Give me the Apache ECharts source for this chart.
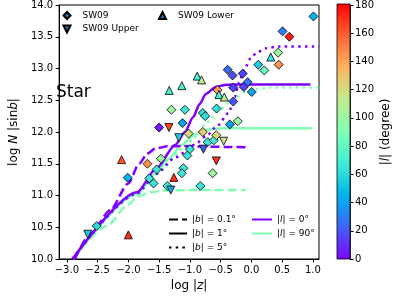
<!DOCTYPE html>
<html><head><meta charset="utf-8">
<script src="https://cdn.jsdelivr.net/npm/echarts@6/dist/echarts.min.js"></script>
<style>html,body{margin:0;padding:0;background:#fff}#c{width:399px;height:298px}</style>
</head><body><div id="c"></div>
<script>
// ---- tick labels ----
const xTicks = [-3.0, -2.5, -2.0, -1.5, -1.0, -0.5, 0.0, 0.5, 1.0];
const cbTicks = [0, 20, 40, 60, 80, 100, 120, 140, 160, 180];

// ---- SW09 observations: log|z|, log N|sinb|, |l| ----
const sw09Z   = [1.01, 0.508, 0.618, 0.436, 0.445, 0.112, 0.21, -0.385, -0.306, -0.14, -0.06, -0.295, -0.123, 0.007, -0.566, -0.295, -0.55, -1.30, -1.08, -1.50, -1.12, -0.79, -0.75, -0.35, -0.22, -0.79, -1.02, -0.71, -0.61, -0.57, -0.63, -0.83, -1.47, -1.69, -1.54, -1.105, -1.13, -1.66, -1.59, -1.365, -2.01, -2.515, -1.04, -1.0];
const sw09N   = [13.82, 13.585, 13.50, 13.25, 13.06, 13.06, 12.97, 12.98, 12.89, 12.92, 12.785, 12.70, 12.71, 12.63, 12.37, 12.48, 12.66, 12.35, 12.35, 12.07, 12.14, 12.30, 12.25, 12.12, 12.17, 12.0, 11.975, 11.84, 11.87, 11.95, 11.35, 11.15, 11.58, 11.50, 11.41, 11.43, 11.35, 11.27, 11.19, 11.15, 11.28, 10.52, 11.63, 11.73];
const sw09L   = [45, 30, 175, 100, 145, 55, 80, 25, 18, 15, 28, 15, 15, 40, 62, 20, 140, 100, 65, 5, 40, 62, 62, 40, 100, 125, 120, 65, 70, 120, 100, 65, 100, 145, 65, 65, 65, 65, 65, 65, 45, 60, 65, 65];

const upperZ  = [-1.34, -1.18, -0.78, -0.45, -0.57, -1.31, -2.66];
const upperN  = [12.07, 11.91, 11.73, 11.855, 11.545, 11.085, 10.39];
const upperL  = [165, 55, 20, 115, 170, 40, 55];

const lowerZ  = [-1.335, -1.13, -0.88, -0.81, -0.527, -0.44, 0.316, -2.11, -1.26, -2.0];
const lowerN  = [12.655, 12.73, 12.88, 12.82, 12.59, 12.55, 13.18, 11.565, 11.285, 10.38];
const lowerL  = [70, 70, 70, 110, 70, 110, 65, 160, 170, 170];

// ---- model curves ----
const l0b01Z = [-2.87, -2.61, -2.295, -2.0, -1.825, -1.69, -1.56, -1.355, -1.145, -0.8, -0.4, -0.06];
const l0b01N = [10.0, 10.405, 10.77, 11.19, 11.5, 11.66, 11.74, 11.775, 11.78, 11.77, 11.765, 11.76];
const l0b1Z  = [-2.91, -1.86, -1.55, -1.235, -1.08, -0.95, -0.84, -0.74, -0.58, -0.40, 0.0, 0.5, 0.96];
const l0b1N  = [10.0, 11.05, 11.42, 11.80, 12.0, 12.23, 12.44, 12.6, 12.71, 12.745, 12.75, 12.75, 12.75];
const l0b5Z  = [-2.91, -1.86, -1.55, -1.235, -0.92, -0.74, -0.55, -0.37, -0.27, -0.2, -0.11, 0.0, 0.1, 0.25, 0.43, 1.1];
const l0b5N  = [10.0, 11.03, 11.34, 11.6, 11.8, 11.93, 12.1, 12.3, 12.55, 12.78, 13.0, 13.18, 13.26, 13.32, 13.345, 13.345];
const l90b01Z = [-2.9, -2.35, -2.0, -1.86, -1.65, -1.4, -1.0, -0.09];
const l90b01N = [10.0, 10.52, 10.86, 10.98, 11.05, 11.08, 11.085, 11.085];
const l90b1Z  = [-2.9, -1.86, -1.55, -1.34, -1.13, -0.92, -0.71, -0.45, 0.0, 0.985];
const l90b1N  = [10.0, 11.02, 11.35, 11.58, 11.8, 11.96, 12.04, 12.06, 12.06, 12.06];
const l90b5Z  = [-2.9, -1.86, -1.5, -1.08, -0.92, -0.71, -0.5, -0.32, -0.09, 0.12, 0.33, 1.1];
const l90b5N  = [10.0, 11.02, 11.38, 11.76, 11.92, 12.16, 12.36, 12.50, 12.63, 12.68, 12.70, 12.70];

const FONT = 'DejaVu Sans';
const PURPLE = '#8000ff', GREEN = '#80ffb4';
const rainbow = ['#8000ff','#4062fa','#00b4eb','#40ecd4','#80ffb4','#c0eb8e','#ffb462','#ff6232','#ff0000'];
const DASH = [9, 4], DOT = [2.5, 4.2];

const zip3 = (a, b, c) => a.map((v, i) => [v, b[i], c[i]]);
const zip2 = (a, b) => a.map((v, i) => [v, b[i]]);

function curve(name, zs, ns, color, type) {
  return { name, type: 'line', xAxisIndex: 0, yAxisIndex: 0, data: zip2(zs, ns),
    symbol: 'none', smooth: 0.25, smoothMonotone: 'x', z: 2, silent: true,
    lineStyle: { color, width: 2.5, type, cap: 'butt' } };
}
function legendLine(name, color, type) {
  return { name, type: 'line', xAxisIndex: 0, yAxisIndex: 0, data: [], symbol: 'none',
    itemStyle: { color: 'rgba(0,0,0,0)', borderWidth: 0 }, lineStyle: { color, width: 2.5, type, cap: 'butt' } };
}
const legendText = { b01: '|{i|b}| = 0.1°', b1: '|{i|b}| = 1°', b5: '|{i|b}| = 5°', l0: '|{i|l}| = 0°', l90: '|{i|l}| = 90°' };
const richSmall = { i: { fontStyle: 'italic', fontFamily: FONT, fontSize: 9, color: '#000' } };
const hiddenIcon = { color: 'rgba(0,0,0,0)', borderColor: 'rgba(0,0,0,0)', borderWidth: 0 };

const chart = echarts.init(document.getElementById('c'), null, { renderer: 'canvas' });
const option = {
  animation: false,
  textStyle: { fontFamily: FONT },
  grid: [
    { left: 49, top: 4, width: 270, height: 255, show: true, borderColor: '#000', borderWidth: 1, backgroundColor: 'transparent' },
    { left: 337, top: 4, width: 13, height: 255, show: false }
  ],
  xAxis: [
    { type: 'value', gridIndex: 0, min: -3.125, max: 1.1,
      axisLine: { show: true, onZero: false, lineStyle: { color: '#000', width: 1 } },
      axisTick: { show: true, length: 3.5, lineStyle: { color: '#000' }, customValues: xTicks },
      axisLabel: { color: '#000', fontSize: 10, fontFamily: FONT, margin: 6, customValues: xTicks,
        formatter: v => v.toFixed(1).replace('-', '\u2212') },
      splitLine: { show: false },
      name: '{n|log |}{i|z}{n||}', nameLocation: 'middle', nameGap: 17,
      nameTextStyle: { color: '#000', fontSize: 12, fontFamily: FONT,
        rich: { n: { fontSize: 12, fontFamily: FONT, color: '#000' }, i: { fontSize: 12, fontStyle: 'italic', fontFamily: FONT, color: '#000' } } } },
    { type: 'value', gridIndex: 1, min: 0, max: 1, show: false }
  ],
  yAxis: [
    { type: 'value', gridIndex: 0, min: 10, max: 14, interval: 0.5,
      axisLine: { show: true, onZero: false, lineStyle: { color: '#000', width: 1 } },
      axisTick: { show: true, length: 3.5, lineStyle: { color: '#000' } },
      axisLabel: { color: '#000', fontSize: 10, fontFamily: FONT, margin: 6, formatter: v => v.toFixed(1) },
      splitLine: { show: false },
      name: '{n|log }{i|N}{n| |sin}{i|b}{n||}', nameLocation: 'middle', nameGap: 30, nameRotate: 90,
      nameTextStyle: { color: '#000', fontSize: 12, fontFamily: FONT,
        rich: { n: { fontSize: 12, fontFamily: FONT, color: '#000' }, i: { fontSize: 12, fontStyle: 'italic', fontFamily: FONT, color: '#000' } } } },
    { type: 'value', gridIndex: 1, min: 0, max: 180, interval: 20, position: 'right',
      axisLine: { show: true, onZero: false, lineStyle: { color: '#000', width: 0.8 } },
      axisTick: { show: true, length: 3.5, lineStyle: { color: '#000' } },
      axisLabel: { color: '#000', fontSize: 10, fontFamily: FONT, margin: 5 },
      splitLine: { show: false },
      name: '{n||}{i|l}{n|| (degree)}', nameLocation: 'middle', nameGap: 30, nameRotate: 90,
      nameTextStyle: { color: '#000', fontSize: 12, fontFamily: FONT,
        rich: { n: { fontSize: 12, fontFamily: FONT, color: '#000' }, i: { fontSize: 12, fontStyle: 'italic', fontFamily: FONT, color: '#000' } } } }
  ],
  visualMap: {
    type: 'continuous', show: false, min: 0, max: 180, dimension: 2, seriesIndex: [0, 1, 2],
    inRange: { color: rainbow }
  },
  legend: [
    { data: [{ name: 'SW09', icon: 'diamond' }, { name: 'SW09 Upper', icon: 'path://M0,0L10,0L5,10Z' }],
      orient: 'vertical', left: 62.5, top: 10, padding: 0, itemWidth: 7, itemHeight: 7, itemGap: 2.5,
      selectedMode: false, textStyle: { fontSize: 9, lineHeight: 11, fontFamily: FONT, color: '#000', padding: [0, 0, 0, 7] } },
    { data: [{ name: 'SW09 Lower', icon: 'triangle' }],
      orient: 'vertical', left: 158, top: 10, padding: 0, itemWidth: 7, itemHeight: 7, itemGap: 2.5,
      selectedMode: false, textStyle: { fontSize: 9, lineHeight: 11, fontFamily: FONT, color: '#000', padding: [0, 0, 0, 7] } },
    { data: ['b01', 'b1', 'b5'], orient: 'vertical', left: 168, top: 214, padding: 0,
      itemWidth: 18, itemHeight: 11, itemGap: 3, selectedMode: false, itemStyle: hiddenIcon,
      formatter: n => legendText[n],
      textStyle: { fontSize: 9, lineHeight: 11, fontFamily: FONT, color: '#000', rich: richSmall } },
    { data: ['l0', 'l90'], orient: 'vertical', left: 251, top: 214, padding: 0,
      itemWidth: 20, itemHeight: 11, itemGap: 3, selectedMode: false, itemStyle: hiddenIcon,
      formatter: n => legendText[n],
      textStyle: { fontSize: 9, lineHeight: 11, fontFamily: FONT, color: '#000', rich: richSmall } }
  ],
  graphic: [
    { type: 'rect', z: 1, shape: { x: 337, y: 4, width: 13, height: 255 },
      style: { stroke: '#000', lineWidth: 0.8,
        fill: { type: 'linear', x: 0, y: 1, x2: 0, y2: 0,
          colorStops: rainbow.map((c, i) => ({ offset: i / (rainbow.length - 1), color: c })) } } },
    { type: 'text', z: 10, style: { x: 56, y: 93, text: 'Star', fontSize: 17, fontFamily: FONT, fill: '#000', verticalAlign: 'middle' } }
  ],
  series: [
    { name: 'SW09', type: 'scatter', data: zip3(sw09Z, sw09N, sw09L), symbol: 'diamond', symbolSize: 9, z: 5,
      itemStyle: { color: '#2574b8', borderColor: '#000', borderWidth: 0.8, opacity: 1 } },
    { name: 'SW09 Upper', type: 'scatter', data: zip3(upperZ, upperN, upperL), symbol: 'triangle', symbolRotate: 180, symbolSize: 8, z: 5,
      itemStyle: { color: '#2574b8', borderColor: '#000', borderWidth: 0.8, opacity: 1 } },
    { name: 'SW09 Lower', type: 'scatter', data: zip3(lowerZ, lowerN, lowerL), symbol: 'triangle', symbolSize: 8, z: 5,
      itemStyle: { color: '#2574b8', borderColor: '#000', borderWidth: 0.8, opacity: 1 } },
    curve('c_l90_b01', l90b01Z, l90b01N, GREEN, DASH),
    curve('c_l90_b1', l90b1Z, l90b1N, GREEN, 'solid'),
    curve('c_l90_b5', l90b5Z, l90b5N, GREEN, DOT),
    curve('c_l0_b01', l0b01Z, l0b01N, PURPLE, DASH),
    curve('c_l0_b1', l0b1Z, l0b1N, PURPLE, 'solid'),
    curve('c_l0_b5', l0b5Z, l0b5N, PURPLE, DOT),
    legendLine('b01', '#000', DASH),
    legendLine('b1', '#000', 'solid'),
    legendLine('b5', '#000', DOT),
    legendLine('l0', PURPLE, 'solid'),
    legendLine('l90', GREEN, 'solid')
  ]
};
chart.setOption(option);
</script>
</body></html>
